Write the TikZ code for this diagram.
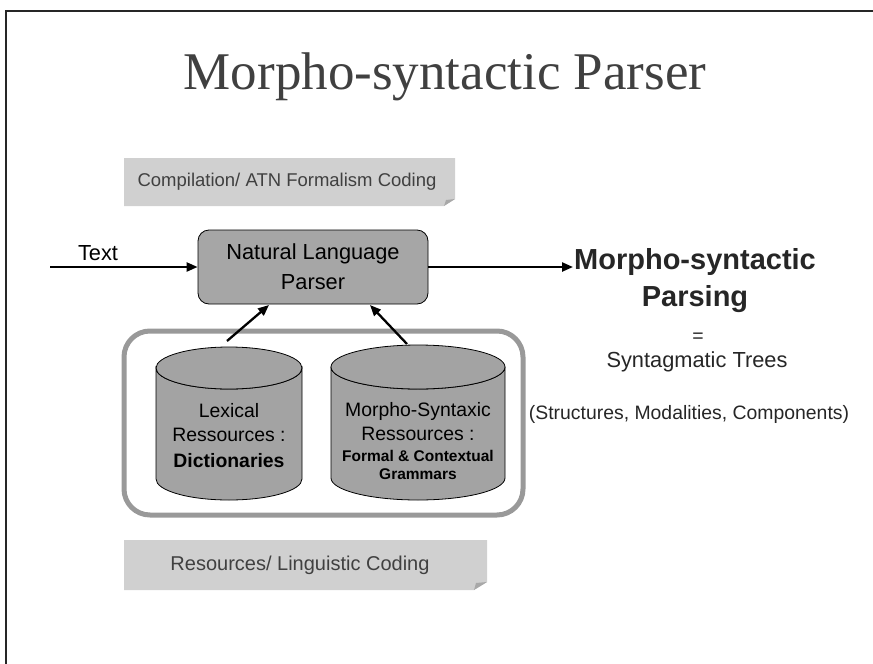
\documentclass[tikz,border=0pt]{standalone}
\usepackage{fontspec}
\setmainfont{Liberation Sans}
\newfontfamily\titlefont{Liberation Serif}
\usetikzlibrary{arrows.meta}
\definecolor{banner}{HTML}{D0D0D0}
\definecolor{bannerdark}{HTML}{A8A8A8}
\definecolor{boxgray}{HTML}{A6A6A6}
\definecolor{cylgray}{HTML}{A3A3A3}
\definecolor{framegray}{HTML}{999999}
\definecolor{txtgray}{HTML}{404040}
\begin{document}
\begin{tikzpicture}[x=1pt,y=-1pt,
  arr/.style={line width=2.3pt,-{Triangle[length=11pt,width=9pt]}},
  bannertext/.style={text=txtgray,font=\fontsize{20}{22}\selectfont,inner sep=0pt},
  cyl/.style={draw=black,line width=0.8pt,fill=cylgray},
  plain/.style={inner sep=0pt,align=center}]
\useasboundingbox (0,0) rectangle (873,664);
% frame
\draw[line width=2pt,black!85] (6,664) -- (6,11) -- (873,11);
% title
\node[plain,text=txtgray,font=\titlefont\fontsize{53}{60}\selectfont] (title) at (445,77) {Morpho-syntactic Parser};
% top banner
\fill[banner] (124,158) -- (455,158) -- (455,199) -- (444,206) -- (124,206) -- cycle;
\fill[bannerdark] (444,206) -- (455,199) -- (446,200) -- cycle;
\node[bannertext,font=\fontsize{18.5}{22}\selectfont] (comp) at (287,182) {Compilation/ ATN Formalism Coding};
% bottom banner
\fill[banner] (124,540) -- (487,540) -- (487,582) -- (474,590) -- (124,590) -- cycle;
\fill[bannerdark] (474,590) -- (487,582) -- (476,583) -- cycle;
\node[bannertext] (res) at (300,565) {Resources/ Linguistic Coding};
% parser box
\node[draw=black,line width=0.8pt,fill=boxgray,rounded corners=11pt,minimum width=230pt,minimum height=74pt,
  align=center,font=\fontsize{21.8}{30}\selectfont] (nlp) at (313,267) {Natural Language\\Parser};
% text input
\coordinate (tin) at (50,267);
\draw[arr] (tin) -- (nlp.west);
\node[plain,font=\fontsize{21.8}{26}\selectfont] (textlbl) at (98,253) {Text};
% output
\coordinate (tout) at (573,267);
\draw[arr] (nlp.east) -- (tout);
\node[plain,font=\bfseries\fontsize{29}{37}\selectfont,text=black!85] (mpp) at (695,281) {Morpho-syntactic\\Parsing};
\node[plain,font=\fontsize{19.4}{22}\selectfont,text=black!85] (eq) at (698,338) {=};
\node[plain,font=\fontsize{21.8}{26}\selectfont,text=black!85] (trees) at (697,362) {Syntagmatic Trees};
\node[plain,font=\fontsize{19.4}{22}\selectfont,text=black!85] (struct) at (689,414) {(Structures, Modalities, Components)};
% container
\draw[framegray,line width=5pt,fill=white,rounded corners=26pt] (124,331) rectangle (523,515);
% cylinder 1
\draw[cyl] (156,368) -- (156,479) arc[start angle=180,end angle=0,x radius=73,y radius=21] -- (302,368) arc[start angle=0,end angle=180,x radius=73,y radius=21] -- cycle;
\draw[cyl] (229,368) ellipse[x radius=73,y radius=21];
\node[plain,font=\fontsize{19.4}{24}\selectfont] (lex) at (229,436) {Lexical\\Ressources :\\[2pt]\textbf{Dictionaries}};
% cylinder 2
\draw[cyl] (331,367) -- (331,478) arc[start angle=180,end angle=0,x radius=87,y radius=22] -- (505,367) arc[start angle=0,end angle=180,x radius=87,y radius=22] -- cycle;
\draw[cyl] (418,367) ellipse[x radius=87,y radius=22];
\node[plain,font=\fontsize{19.4}{24}\selectfont] (morph) at (418,422) {Morpho-Syntaxic\\Ressources :};
\node[plain,font=\bfseries\fontsize{15.5}{18}\selectfont] (gram) at (418,465) {Formal \& Contextual\\Grammars};
% arrows to parser
\coordinate (a1s) at (227,341);
\coordinate (a1t) at (269,305);
\coordinate (a2s) at (407,344);
\coordinate (a2t) at (370,305);
\draw[arr] (a1s) -- (a1t);
\draw[arr] (a2s) -- (a2t);
\end{tikzpicture}
\end{document}
